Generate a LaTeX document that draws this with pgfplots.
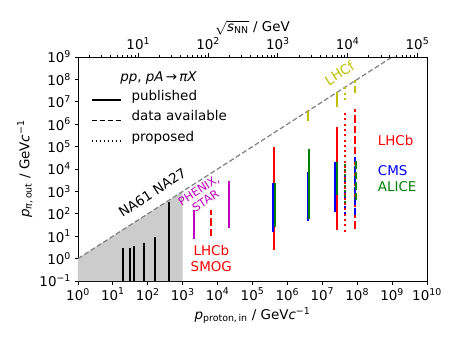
\documentclass[border=0pt]{standalone}
\usepackage{fontspec}
\setmainfont{DejaVu Sans}
\usepackage{pgfplots}
\pgfplotsset{compat=1.18}
\definecolor{mplr}{rgb}{1,0,0}
\definecolor{mplb}{rgb}{0,0,1}
\definecolor{mplg}{rgb}{0,0.5,0}
\definecolor{mplm}{rgb}{0.75,0,0.75}
\definecolor{mply}{rgb}{0.75,0.75,0}
\newcommand{\tp}[1]{10\textsuperscript{#1}}
\begin{document}
\begin{tikzpicture}[font=\fontsize{13.5}{16}\selectfont]
\path[use as bounding box] (-78bp,-62bp) rectangle (380bp,281bp);
\pgfplotsset{
  pub/.style={forget plot, line width=2bp},
  avail/.style={forget plot, line width=2bp, dash pattern=on 7.4bp off 3.2bp},
  prop/.style={forget plot, line width=2bp, dash pattern=on 2bp off 3.3bp},
}
\begin{axis}[
  at={(0,0)}, anchor=south west,
  scale only axis, width=349bp, height=224bp,
  xmode=log, ymode=log,
  xmin=1, xmax=1e10, ymin=1e-1, ymax=1e9,
  xtick={1,1e1,1e2,1e3,1e4,1e5,1e6,1e7,1e8,1e9,1e10},
  xticklabels={\tp{0},\tp{1},\tp{2},\tp{3},\tp{4},\tp{5},\tp{6},\tp{7},\tp{8},\tp{9},\tp{10}},
  ytick={1e-1,1,1e1,1e2,1e3,1e4,1e5,1e6,1e7,1e8,1e9},
  yticklabels={\tp{−1},\tp{0},\tp{1},\tp{2},\tp{3},\tp{4},\tp{5},\tp{6},\tp{7},\tp{8},\tp{9}},
  xminorticks=false, yminorticks=false,
  tick pos=left, tick align=outside,
  major tick length=3.5bp,
  tick style={black, line width=0.8bp},
  axis line style={line width=0.8bp},
  xlabel={\textit{p}\textsubscript{proton,\,in} / GeV\textit{c}\textsuperscript{−1}},
  ylabel={\textit{p}\textsubscript{\textit{π},\,out} / GeV\textit{c}\textsuperscript{−1}},
  legend image code/.code={\draw[#1] (0bp,0bp) -- (29bp,0bp);},
  legend style={draw=none, fill=none, at={(axis description cs:0.037,0.732)},
    anchor=west, inner sep=0pt, column sep=10bp, row sep=7.5bp,
    nodes={inner sep=0pt, text height=10bp, text depth=3bp, anchor=base west}},
]
\addlegendimage{black, line width=1.5bp}
\addlegendentry{published}
\addlegendimage{black, line width=1.5bp, dash pattern=on 5.55bp off 2.4bp}
\addlegendentry{data available}
\addlegendimage{black, line width=1.5bp, dash pattern=on 1.5bp off 2.5bp}
\addlegendentry{proposed}

% kinematic limit and fixed-target region
\addplot[forget plot, draw=none, fill=black!20] coordinates {(1,0.1) (1,1) (1000,1000) (1000,0.1)} -- cycle;
\addplot[forget plot, gray, line width=1.2bp, dash pattern=on 5bp off 2.5bp] coordinates {(1,1) (1e10,1e10)};

% NA61, NA27
\addplot[pub, black] coordinates {(20,0.1) (20,2.9)};
\addplot[pub, black] coordinates {(31,0.1) (31,2.9)};
\addplot[pub, black] coordinates {(40,0.1) (40,3.6)};
\addplot[pub, black] coordinates {(80,0.1) (80,5.1)};
\addplot[pub, black] coordinates {(158,0.1) (158,8.9)};
\addplot[pub, black] coordinates {(400,0.1) (400,350)};

% PHENIX, STAR and LHCb SMOG
\addplot[pub, mplm] coordinates {(2100,7.3) (2100,148)};
\addplot[pub, mplm] coordinates {(21000,24) (21000,3000)};
\addplot[avail, mplr] coordinates {(6600,10) (6600,150)};

% 0.9 TeV
\addplot[pub, mplr] coordinates {(4.07e5,2.4) (4.07e5,9.3e4)};
\addplot[pub, mplb] coordinates {(3.89e5,15.8) (3.89e5,2450)};
\addplot[pub, mplg] coordinates {(4.37e5,26) (4.37e5,2290)};
% 2.76 TeV
\addplot[pub, mplb] coordinates {(3.8e6,49) (3.8e6,7590)};
\addplot[pub, mplg] coordinates {(4.27e6,56) (4.27e6,7.6e4)};
\addplot[pub, mply] coordinates {(3.8e6,1.45e6) (3.8e6,4.0e6)};
% 7 TeV
\addplot[pub, mplr] coordinates {(2.57e7,19) (2.57e7,7.8e5)};
\addplot[pub, mplb] coordinates {(2.34e7,123) (2.34e7,2.04e4)};
\addplot[pub, mplg] coordinates {(2.69e7,692) (2.69e7,2.04e4)};
\addplot[pub, mply] coordinates {(2.69e7,6.0e6) (2.69e7,2.8e7)};
% proposed
\addplot[prop, mplr] coordinates {(4.47e7,16) (4.47e7,3.1e6)};
\addplot[prop, mplb] coordinates {(4.37e7,100) (4.37e7,1.8e4)};
\addplot[prop, mplg] coordinates {(4.57e7,316) (4.57e7,1.8e4)};
\addplot[prop, mply] coordinates {(4.57e7,1.2e7) (4.57e7,4.5e7)};
% 13 TeV
\addplot[avail, mplr] coordinates {(8.7e7,22) (8.7e7,4.7e6)};
\addplot[avail, mplb] coordinates {(8.5e7,85) (8.5e7,3.5e4)};
\addplot[avail, mplg] coordinates {(9.1e7,400) (9.1e7,2.5e4)};
\addplot[avail, mply] coordinates {(8.7e7,2.4e7) (8.7e7,9.0e7)};

\node[rotate=33] at (axis cs:135,900) {NA61 NA27};
\node[rotate=33, mplm, align=center, font=\fontsize{11.5}{12.5}\selectfont] at (axis cs:3600,650) {PHENIX,\\STAR};
\node[mplr, align=center] at (axis cs:6600,1.03) {LHCb\\SMOG};
\node[rotate=33, mply] at (axis cs:3.1e7,1.9e8) {LHCf};
\node[mplr, anchor=west] at (axis cs:3.1e8,1.95e5) {LHCb};
\node[mplb, anchor=west] at (axis cs:3.1e8,8100) {CMS};
\node[mplg, anchor=west] at (axis cs:3.1e8,1620) {ALICE};
\node at (axis description cs:0.231,0.906) {\textit{pp}, \textit{pA}\,→\,\textit{πX}};
\end{axis}
\begin{axis}[
  at={(0,0)}, anchor=south west,
  scale only axis, width=349bp, height=224bp,
  xmode=log, xmin=1.36968, xmax=1.36968e5,
  ymin=0, ymax=1,
  axis x line*=top, axis y line=none,
  xtick={10,100,1000,10000,100000},
  xticklabels={\tp{1},\tp{2},\tp{3},\tp{4},\tp{5}},
  minor xtick={2,3,4,5,6,7,8,9,20,30,40,50,60,70,80,90,200,300,400,500,600,700,800,900,2000,3000,4000,5000,6000,7000,8000,9000,20000,30000,40000,50000,60000,70000,80000,90000},
  tick align=outside,
  major tick length=3.5bp, minor tick length=2bp,
  tick style={black, line width=0.8bp},
  minor tick style={black, line width=0.6bp},
  axis line style={line width=0.8bp},
  xlabel={$\sqrt{\hbox{\textit{s}\textsubscript{NN}}}$ / GeV},
  xlabel style={yshift=-5bp},
]
\end{axis}
\end{tikzpicture}
\end{document}
